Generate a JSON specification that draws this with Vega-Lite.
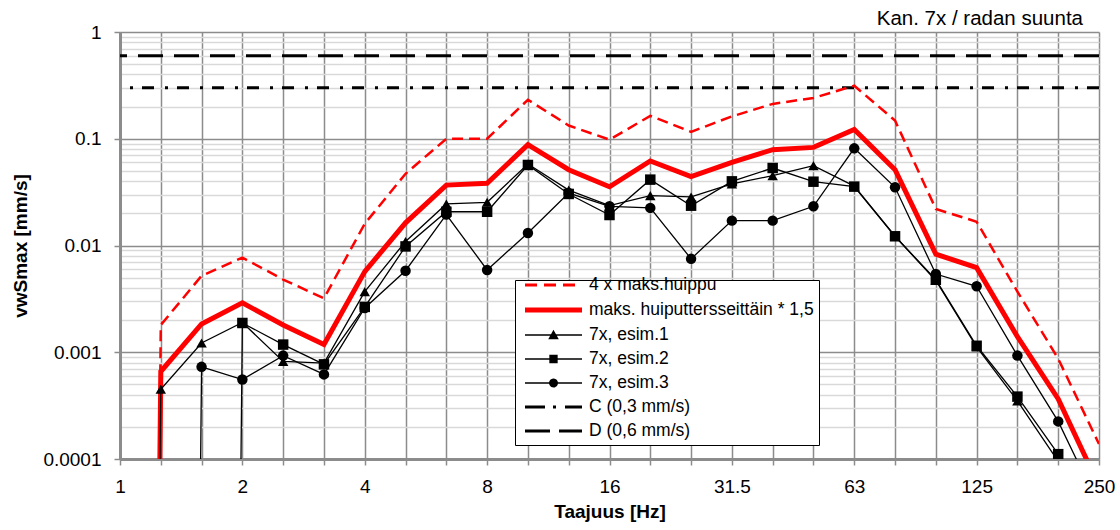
{
  "$schema": "https://vega.github.io/schema/vega-lite/v6.json",
  "width": 979,
  "height": 427,
  "autosize": {"type": "none"},
  "padding": {"left": 120, "top": 32, "right": 21, "bottom": 71},
  "background": "white",
  "config": {
    "font": "Liberation Sans",
    "view": {"stroke": null}
  },
  "title": {
    "text": "Kan. 7x / radan suunta",
    "anchor": "end",
    "frame": "group",
    "fontSize": 20.5,
    "fontWeight": "normal",
    "font": "Liberation Sans",
    "color": "black",
    "offset": 7,
    "dy": 13,
    "dx": -16
  },
  "datasets": {
    "ref": [
      {"series": "C (0,3 mm/s)", "v": 0.3},
      {"series": "D (0,6 mm/s)", "v": 0.6}
    ],
    "meas": [
      {"series": "4 x maks.huippu", "f": "1", "v": 1e-40},
      {"series": "4 x maks.huippu", "f": "1.25", "v": 0.0018},
      {"series": "4 x maks.huippu", "f": "1.6", "v": 0.0052},
      {"series": "4 x maks.huippu", "f": "2", "v": 0.0077},
      {"series": "4 x maks.huippu", "f": "2.5", "v": 0.0048},
      {"series": "4 x maks.huippu", "f": "3.15", "v": 0.0032},
      {"series": "4 x maks.huippu", "f": "4", "v": 0.016},
      {"series": "4 x maks.huippu", "f": "5", "v": 0.047},
      {"series": "4 x maks.huippu", "f": "6.3", "v": 0.1},
      {"series": "4 x maks.huippu", "f": "8", "v": 0.1},
      {"series": "4 x maks.huippu", "f": "10", "v": 0.232},
      {"series": "4 x maks.huippu", "f": "12.5", "v": 0.133},
      {"series": "4 x maks.huippu", "f": "16", "v": 0.098},
      {"series": "4 x maks.huippu", "f": "20", "v": 0.164},
      {"series": "4 x maks.huippu", "f": "25", "v": 0.116},
      {"series": "4 x maks.huippu", "f": "31.5", "v": 0.162},
      {"series": "4 x maks.huippu", "f": "40", "v": 0.212},
      {"series": "4 x maks.huippu", "f": "50", "v": 0.241},
      {"series": "4 x maks.huippu", "f": "63", "v": 0.314},
      {"series": "4 x maks.huippu", "f": "80", "v": 0.148},
      {"series": "4 x maks.huippu", "f": "100", "v": 0.022},
      {"series": "4 x maks.huippu", "f": "125", "v": 0.0167},
      {"series": "4 x maks.huippu", "f": "160", "v": 0.0037},
      {"series": "4 x maks.huippu", "f": "200", "v": 0.00087},
      {"series": "4 x maks.huippu", "f": "250", "v": 0.000138},

      {"series": "maks. huiputtersseittäin * 1,5", "f": "1", "v": 1e-40},
      {"series": "maks. huiputtersseittäin * 1,5", "f": "1.25", "v": 0.00066},
      {"series": "maks. huiputtersseittäin * 1,5", "f": "1.6", "v": 0.00184},
      {"series": "maks. huiputtersseittäin * 1,5", "f": "2", "v": 0.0029},
      {"series": "maks. huiputtersseittäin * 1,5", "f": "2.5", "v": 0.0018},
      {"series": "maks. huiputtersseittäin * 1,5", "f": "3.15", "v": 0.00118},
      {"series": "maks. huiputtersseittäin * 1,5", "f": "4", "v": 0.0057},
      {"series": "maks. huiputtersseittäin * 1,5", "f": "5", "v": 0.0163},
      {"series": "maks. huiputtersseittäin * 1,5", "f": "6.3", "v": 0.0368},
      {"series": "maks. huiputtersseittäin * 1,5", "f": "8", "v": 0.0382},
      {"series": "maks. huiputtersseittäin * 1,5", "f": "10", "v": 0.088},
      {"series": "maks. huiputtersseittäin * 1,5", "f": "12.5", "v": 0.0513},
      {"series": "maks. huiputtersseittäin * 1,5", "f": "16", "v": 0.0355},
      {"series": "maks. huiputtersseittäin * 1,5", "f": "20", "v": 0.0619},
      {"series": "maks. huiputtersseittäin * 1,5", "f": "25", "v": 0.0441},
      {"series": "maks. huiputtersseittäin * 1,5", "f": "31.5", "v": 0.0601},
      {"series": "maks. huiputtersseittäin * 1,5", "f": "40", "v": 0.079},
      {"series": "maks. huiputtersseittäin * 1,5", "f": "50", "v": 0.083},
      {"series": "maks. huiputtersseittäin * 1,5", "f": "63", "v": 0.122},
      {"series": "maks. huiputtersseittäin * 1,5", "f": "80", "v": 0.0513},
      {"series": "maks. huiputtersseittäin * 1,5", "f": "100", "v": 0.0083},
      {"series": "maks. huiputtersseittäin * 1,5", "f": "125", "v": 0.0062},
      {"series": "maks. huiputtersseittäin * 1,5", "f": "160", "v": 0.0014},
      {"series": "maks. huiputtersseittäin * 1,5", "f": "200", "v": 0.000365},
      {"series": "maks. huiputtersseittäin * 1,5", "f": "250", "v": 0.000056},

      {"series": "7x, esim.1", "f": "1", "v": 1e-40},
      {"series": "7x, esim.1", "f": "1.25", "v": 0.00045},
      {"series": "7x, esim.1", "f": "1.6", "v": 0.00122},
      {"series": "7x, esim.1", "f": "2", "v": 0.0019},
      {"series": "7x, esim.1", "f": "2.5", "v": 0.00082},
      {"series": "7x, esim.1", "f": "3.15", "v": 0.00079},
      {"series": "7x, esim.1", "f": "4", "v": 0.0037},
      {"series": "7x, esim.1", "f": "5", "v": 0.0109},
      {"series": "7x, esim.1", "f": "6.3", "v": 0.0245},
      {"series": "7x, esim.1", "f": "8", "v": 0.0254},
      {"series": "7x, esim.1", "f": "10", "v": 0.058},
      {"series": "7x, esim.1", "f": "12.5", "v": 0.033},
      {"series": "7x, esim.1", "f": "16", "v": 0.0236},
      {"series": "7x, esim.1", "f": "20", "v": 0.0293},
      {"series": "7x, esim.1", "f": "25", "v": 0.0285},
      {"series": "7x, esim.1", "f": "31.5", "v": 0.0377},
      {"series": "7x, esim.1", "f": "40", "v": 0.0451},
      {"series": "7x, esim.1", "f": "50", "v": 0.056},
      {"series": "7x, esim.1", "f": "63", "v": 0.036},
      {"series": "7x, esim.1", "f": "80", "v": 0.0122},
      {"series": "7x, esim.1", "f": "100", "v": 0.0047},
      {"series": "7x, esim.1", "f": "125", "v": 0.00112},
      {"series": "7x, esim.1", "f": "160", "v": 0.00035},
      {"series": "7x, esim.1", "f": "200", "v": 0.000095},
      {"series": "7x, esim.1", "f": "250", "v": 0.00002},

      {"series": "7x, esim.2", "f": "1", "v": 1e-40},
      {"series": "7x, esim.2", "f": "1.25", "v": 1e-40},
      {"series": "7x, esim.2", "f": "1.6", "v": 1e-40},
      {"series": "7x, esim.2", "f": "2", "v": 0.00188},
      {"series": "7x, esim.2", "f": "2.5", "v": 0.00118},
      {"series": "7x, esim.2", "f": "3.15", "v": 0.00077},
      {"series": "7x, esim.2", "f": "4", "v": 0.00266},
      {"series": "7x, esim.2", "f": "5", "v": 0.0098},
      {"series": "7x, esim.2", "f": "6.3", "v": 0.0207},
      {"series": "7x, esim.2", "f": "8", "v": 0.0207},
      {"series": "7x, esim.2", "f": "10", "v": 0.0568},
      {"series": "7x, esim.2", "f": "12.5", "v": 0.0304},
      {"series": "7x, esim.2", "f": "16", "v": 0.0193},
      {"series": "7x, esim.2", "f": "20", "v": 0.0414},
      {"series": "7x, esim.2", "f": "25", "v": 0.0236},
      {"series": "7x, esim.2", "f": "31.5", "v": 0.0399},
      {"series": "7x, esim.2", "f": "40", "v": 0.0532},
      {"series": "7x, esim.2", "f": "50", "v": 0.0396},
      {"series": "7x, esim.2", "f": "63", "v": 0.0356},
      {"series": "7x, esim.2", "f": "80", "v": 0.0122},
      {"series": "7x, esim.2", "f": "100", "v": 0.00478},
      {"series": "7x, esim.2", "f": "125", "v": 0.00115},
      {"series": "7x, esim.2", "f": "160", "v": 0.000384},
      {"series": "7x, esim.2", "f": "200", "v": 0.000111},
      {"series": "7x, esim.2", "f": "250", "v": 0.000022},

      {"series": "7x, esim.3", "f": "1", "v": 1e-40},
      {"series": "7x, esim.3", "f": "1.25", "v": 1e-40},
      {"series": "7x, esim.3", "f": "1.6", "v": 0.00073},
      {"series": "7x, esim.3", "f": "2", "v": 0.000555},
      {"series": "7x, esim.3", "f": "2.5", "v": 0.00093},
      {"series": "7x, esim.3", "f": "3.15", "v": 0.00062},
      {"series": "7x, esim.3", "f": "4", "v": 0.0026},
      {"series": "7x, esim.3", "f": "5", "v": 0.0058},
      {"series": "7x, esim.3", "f": "6.3", "v": 0.0195},
      {"series": "7x, esim.3", "f": "8", "v": 0.0059},
      {"series": "7x, esim.3", "f": "10", "v": 0.0131},
      {"series": "7x, esim.3", "f": "12.5", "v": 0.031},
      {"series": "7x, esim.3", "f": "16", "v": 0.0233},
      {"series": "7x, esim.3", "f": "20", "v": 0.0225},
      {"series": "7x, esim.3", "f": "25", "v": 0.0075},
      {"series": "7x, esim.3", "f": "31.5", "v": 0.0171},
      {"series": "7x, esim.3", "f": "40", "v": 0.0171},
      {"series": "7x, esim.3", "f": "50", "v": 0.0233},
      {"series": "7x, esim.3", "f": "63", "v": 0.0813},
      {"series": "7x, esim.3", "f": "80", "v": 0.0351},
      {"series": "7x, esim.3", "f": "100", "v": 0.0054},
      {"series": "7x, esim.3", "f": "125", "v": 0.00415},
      {"series": "7x, esim.3", "f": "160", "v": 0.00093},
      {"series": "7x, esim.3", "f": "200", "v": 0.000225},
      {"series": "7x, esim.3", "f": "250", "v": 0.000036}
    ]
  },
  "resolve": {"axis": {"y": "independent"}},
  "layer": [
    {
      "data": {"name": "ref"},
      "mark": {"type": "rule", "strokeWidth": 3},
      "encoding": {
        "y": {
          "field": "v", "type": "quantitative",
          "scale": {"type": "log", "domain": [0.0001, 1], "nice": false},
          "axis": {
            "orient": "left",
            "values": [0.0002,0.0003,0.0004,0.0005,0.0006,0.0007,0.0008,0.0009,0.002,0.003,0.004,0.005,0.006,0.007,0.008,0.009,0.02,0.03,0.04,0.05,0.06,0.07,0.08,0.09,0.2,0.3,0.4,0.5,0.6,0.7,0.8,0.9],
            "labels": false, "ticks": false, "domain": false, "title": null,
            "grid": true, "gridColor": "#d9d9d9", "gridWidth": 1.5
          }
        },
        "color": {
          "field": "series", "type": "nominal",
          "scale": {
            "domain": ["4 x maks.huippu", "maks. huiputtersseittäin * 1,5", "7x, esim.1", "7x, esim.2", "7x, esim.3", "C (0,3 mm/s)", "D (0,6 mm/s)"],
            "range": ["#ff0000", "#ff0000", "black", "black", "black", "black", "black"]
          },
          "legend": {
            "title": null,
            "orient": "none",
            "legendX": 395,
            "legendY": 248,
            "direction": "vertical",
            "fillColor": "white",
            "strokeColor": "black",
            "padding": 5,
            "rowPadding": 6,
            "labelFontSize": 17.5,
            "labelColor": "black",
            "labelFont": "Liberation Sans",
            "labelLimit": 400,
            "symbolSize": 100,
            "symbolStrokeWidth": 1.5,
            "encode": {
              "symbols": {
                "update": {
                  "shape": {"signal": "['M-1,0H1','M-1,0H1','M-1,0H1M-0.14,0.12L0,-0.13L0.14,0.12Z','M-1,0H1M-0.12,-0.12H0.12V0.12H-0.12Z','M-1,0H1M-0.13,0A0.13,0.13,0,1,0,0.13,0A0.13,0.13,0,1,0,-0.13,0Z','M-1,0H1','M-1,0H1'][indexof(['4 x maks.huippu','maks. huiputtersseittäin * 1,5','7x, esim.1','7x, esim.2','7x, esim.3','C (0,3 mm/s)','D (0,6 mm/s)'], datum.value)]"},
                  "strokeDash": {"signal": "[[12,7],[1,0],[1,0],[1,0],[1,0],[20,8,3,9],[25,9]][indexof(['4 x maks.huippu','maks. huiputtersseittäin * 1,5','7x, esim.1','7x, esim.2','7x, esim.3','C (0,3 mm/s)','D (0,6 mm/s)'], datum.value)]"},
                  "strokeWidth": {"signal": "[3,5,1.5,1.5,1.5,3,3][indexof(['4 x maks.huippu','maks. huiputtersseittäin * 1,5','7x, esim.1','7x, esim.2','7x, esim.3','C (0,3 mm/s)','D (0,6 mm/s)'], datum.value)]"},
                  "fill": {"signal": "indexof(['4 x maks.huippu','maks. huiputtersseittäin * 1,5'], datum.value) >= 0 ? '#ff0000' : 'black'"},
                  "stroke": {"signal": "indexof(['4 x maks.huippu','maks. huiputtersseittäin * 1,5'], datum.value) >= 0 ? '#ff0000' : 'black'"},
                  "size": {"value": 3249},
                  "x": {"value": 33.5},
                  "opacity": {"value": 1},
                  "fillOpacity": {"value": 1},
                  "strokeOpacity": {"value": 1}
                }
              },
              "labels": {"update": {"x": {"value": 69}}}
            }
          }
        },
        "strokeDash": {
          "field": "series", "type": "nominal",
          "scale": {"domain": ["C (0,3 mm/s)", "D (0,6 mm/s)"], "range": [[12, 9, 3, 11], [25, 11]]},
          "legend": null
        }
      }
    },
    {
      "data": {"name": "meas"},
      "transform": [{"filter": "datum.series === '4 x maks.huippu'"}],
      "mark": {"type": "line", "strokeWidth": 2.5, "strokeDash": [11, 6], "clip": true},
      "encoding": {
        "x": {
          "field": "f", "type": "ordinal", "sort": null,
          "scale": {"type": "point", "padding": 0, "domain": ["1","1.25","1.6","2","2.5","3.15","4","5","6.3","8","10","12.5","16","20","25","31.5","40","50","63","80","100","125","160","200","250"]},
          "axis": {
            "title": "Taajuus [Hz]",
            "titleFontSize": 19, "titleFontWeight": "bold", "titleColor": "black", "titlePadding": 6,
            "labelExpr": "indexof(['1','2','4','8','16','31.5','63','125','250'], datum.value) >= 0 ? datum.value : ''",
            "labelAngle": 0, "labelOverlap": false, "labelFontSize": 19, "labelColor": "black", "labelPadding": 12,
            "grid": true, "gridColor": "#8c8c8c", "gridWidth": 1.5,
            "domainColor": "#8c8c8c", "domainWidth": 3,
            "tickColor": "#8c8c8c", "tickSize": 6, "tickWidth": 1.5
          }
        },
        "y": {
          "field": "v", "type": "quantitative",
          "axis": {
            "orient": "left",
            "values": [0.0001, 0.001, 0.01, 0.1, 1],
            "format": "~g",
            "title": "vwSmax [mm/s]",
            "titleFontSize": 19, "titleFontWeight": "bold", "titleColor": "black", "titlePadding": 12,
            "labelFontSize": 19, "labelColor": "black", "labelPadding": 13,
            "grid": true, "gridColor": "#8c8c8c", "gridWidth": 1.5,
            "domainColor": "#8c8c8c", "domainWidth": 3,
            "tickColor": "#8c8c8c", "tickSize": 6, "tickWidth": 1.5
          }
        },
        "color": {"field": "series", "type": "nominal"}
      }
    },
    {
      "data": {"name": "meas"},
      "transform": [{"filter": "datum.series === 'maks. huiputtersseittäin * 1,5'"}],
      "mark": {"type": "line", "strokeWidth": 5, "clip": true},
      "encoding": {
        "x": {"field": "f", "type": "ordinal", "sort": null},
        "y": {"field": "v", "type": "quantitative", "axis": null},
        "color": {"field": "series", "type": "nominal"}
      }
    },
    {
      "data": {"name": "meas"},
      "transform": [{"filter": "indexof(['7x, esim.1','7x, esim.2','7x, esim.3'], datum.series) >= 0"}],
      "mark": {"type": "line", "strokeWidth": 1.3, "clip": true},
      "encoding": {
        "x": {"field": "f", "type": "ordinal", "sort": null},
        "y": {"field": "v", "type": "quantitative", "axis": null},
        "color": {"field": "series", "type": "nominal"}
      }
    },
    {
      "data": {"name": "meas"},
      "transform": [{"filter": "indexof(['7x, esim.1','7x, esim.2','7x, esim.3'], datum.series) >= 0 && datum.v >= 0.0001"}],
      "mark": {"type": "point", "filled": true, "size": 110, "opacity": 1, "color": "black", "clip": true},
      "encoding": {
        "x": {"field": "f", "type": "ordinal", "sort": null},
        "y": {"field": "v", "type": "quantitative", "axis": null},
        "shape": {
          "field": "series", "type": "nominal",
          "scale": {"domain": ["7x, esim.1", "7x, esim.2", "7x, esim.3"], "range": ["triangle-up", "square", "circle"]},
          "legend": null
        }
      }
    }
  ]
}
